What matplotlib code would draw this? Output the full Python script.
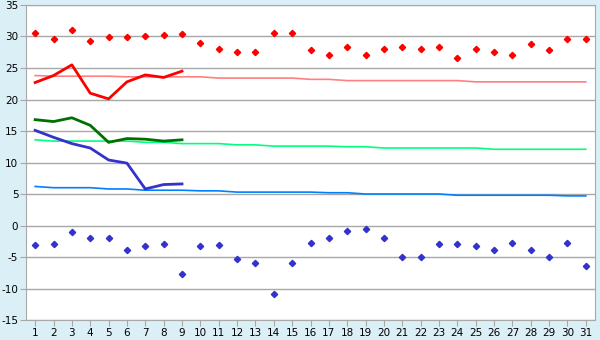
import matplotlib
matplotlib.use("Agg")
import matplotlib.pyplot as plt

plt.rcParams["axes.unicode_minus"] = False

days = list(range(1, 32))

# daily max / min (markers)
t_max = [30.5, 29.6, 31.0, 29.3, 29.9, 29.9, 30.1, 30.3, 30.4, 28.9,
         28.0, 27.5, 27.5, 30.5, 30.5, 27.8, 27.1, 28.3, 27.1, 28.0,
         28.4, 28.0, 28.3, 26.6, 28.0, 27.5, 27.1, 28.8, 27.8, 29.6, 29.6]
t_min = [-3.1, -3.0, -1.0, -2.0, -2.0, -3.9, -3.3, -3.0, -7.7, -3.3,
         -3.1, -5.3, -6.0, -10.9, -6.0, -2.8, -2.0, -0.9, -0.6, -2.0,
         -5.0, -5.0, -3.0, -3.0, -3.3, -3.9, -2.7, -3.9, -5.0, -2.8, -6.5]

# current month (days 1-9)
cur_days = [1, 2, 3, 4, 5, 6, 7, 8, 9]
cur_max = [22.7, 23.8, 25.5, 21.0, 20.1, 22.8, 23.9, 23.5, 24.5]
cur_avg = [16.8, 16.5, 17.1, 15.9, 13.2, 13.8, 13.7, 13.4, 13.6]
cur_min = [15.1, 14.0, 13.0, 12.3, 10.4, 9.9, 5.8, 6.5, 6.6]

# normals
norm_max = [23.8, 23.7, 23.7, 23.7, 23.7, 23.6, 23.6, 23.6, 23.6, 23.6,
            23.4, 23.4, 23.4, 23.4, 23.4, 23.2, 23.2, 23.0, 23.0, 23.0,
            23.0, 23.0, 23.0, 23.0, 22.8, 22.8, 22.8, 22.8, 22.8, 22.8, 22.8]
norm_avg = [13.6, 13.4, 13.4, 13.4, 13.4, 13.4, 13.2, 13.2, 13.0, 13.0,
            13.0, 12.8, 12.8, 12.6, 12.6, 12.6, 12.6, 12.5, 12.5, 12.3,
            12.3, 12.3, 12.3, 12.3, 12.3, 12.1, 12.1, 12.1, 12.1, 12.1, 12.1]
norm_min = [6.2, 6.0, 6.0, 6.0, 5.8, 5.8, 5.6, 5.6, 5.6, 5.5,
            5.5, 5.3, 5.3, 5.3, 5.3, 5.3, 5.2, 5.2, 5.0, 5.0,
            5.0, 5.0, 5.0, 4.8, 4.8, 4.8, 4.8, 4.8, 4.8, 4.7, 4.7]

bg = "#daeff6"
fig = plt.figure(figsize=(6, 3.4), dpi=100, facecolor=bg)
ax = fig.add_axes([0.0433, 0.0588, 0.9484, 0.9265])
ax.set_facecolor("white")

ax.plot(days, norm_max, color="#ff8080", lw=1.2, zorder=2)
ax.plot(days, norm_avg, color="#00ff80", lw=1.2, zorder=2)
ax.plot(days, norm_min, color="#0080ff", lw=1.2, zorder=2)

ax.plot(cur_days, cur_max, color="#ff0000", lw=2.0, zorder=3)
ax.plot(cur_days, cur_avg, color="#007000", lw=2.0, zorder=3)
ax.plot(cur_days, cur_min, color="#3333cc", lw=2.0, zorder=3)

ax.plot(days, t_max, "D", color="#ff0000", ms=3.2, zorder=4)
ax.plot(days, t_min, "D", color="#3333cc", ms=3.2, zorder=4)

ax.set_xlim(0.5, 31.5)
ax.set_ylim(-15, 35)
ax.set_xticks(days)
ax.set_yticks(range(-15, 36, 5))
ax.yaxis.grid(True, color="#a8a8a8", lw=1)
ax.set_axisbelow(True)
for s in ax.spines.values():
    s.set_color("#a8a8a8")
ax.tick_params(colors="#a8a8a8", labelcolor="black", labelsize=7.5, length=4)
ax.tick_params(axis="x", pad=2)
ax.tick_params(axis="y", pad=1.5)

fig.savefig("out.png", dpi=100, facecolor=bg)
